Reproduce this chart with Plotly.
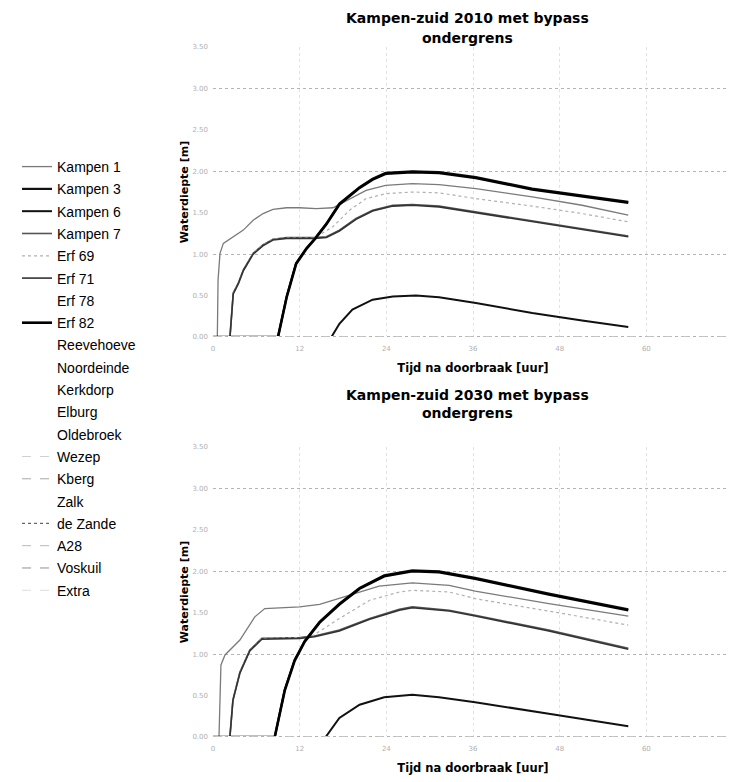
import plotly.graph_objects as go

# ---------------- data ----------------
names = ["Kampen 1", "Kampen 3", "Kampen 6", "Kampen 7", "Erf 69", "Erf 71", "Erf 78", "Erf 82",
         "Reevehoeve", "Noordeinde", "Kerkdorp", "Elburg", "Oldebroek", "Wezep", "Kberg", "Zalk",
         "de Zande", "A28", "Voskuil", "Extra"]

x_ticks = [0, 12, 24, 36, 48, 60, 72]

# 2010 (top chart): time [uur], depth [m]
t10_kampen1 = [0, 0.6, 0.7, 0.97, 1.43, 2.8, 4.2, 5.56, 6.94, 8.3, 10.2, 12.0, 14.3, 16.6, 18.9, 21.2, 23.9, 27.6, 31.3, 36.4, 44.2, 51.1, 57.5]
d10_kampen1 = [0, 0.0, 0.69, 1.01, 1.13, 1.21, 1.29, 1.41, 1.49, 1.54, 1.56, 1.56, 1.55, 1.56, 1.67, 1.77, 1.83, 1.85, 1.84, 1.79, 1.69, 1.59, 1.47]

t10_kampen3 = [0, 9.0, 10.2, 11.5, 12.9, 14.1, 15.7, 17.5, 20.3, 22.1, 23.9, 27.6, 31.3, 36.4, 44.2, 51.1, 57.5]
d10_kampen3 = [0, 0.0, 0.49, 0.89, 1.07, 1.19, 1.37, 1.61, 1.81, 1.91, 1.98, 2.00, 1.99, 1.93, 1.79, 1.71, 1.63]

t10_kampen6 = [0, 16.4, 17.5, 19.3, 22.1, 24.9, 28.1, 31.3, 36.4, 44.2, 51.1, 57.5]
d10_kampen6 = [0, 0.0, 0.16, 0.33, 0.45, 0.49, 0.50, 0.48, 0.41, 0.29, 0.20, 0.12]

t10_kampen7 = [0, 2.35, 2.8, 3.5, 4.2, 5.56, 6.9, 8.3, 10.2, 12.0, 14.1, 15.7, 17.5, 19.8, 22.1, 24.9, 27.6, 31.3, 36.4, 44.2, 51.1, 57.5]
d10_kampen7 = [0, 0.0, 0.53, 0.65, 0.81, 1.01, 1.11, 1.18, 1.20, 1.20, 1.20, 1.21, 1.29, 1.43, 1.53, 1.59, 1.60, 1.58, 1.51, 1.40, 1.31, 1.22]

t10_erf69 = [0, 2.35, 2.8, 3.5, 4.2, 5.56, 6.9, 8.3, 10.2, 12.0, 14.1, 16.6, 18.9, 21.2, 23.9, 27.6, 31.3, 36.4, 44.2, 51.1, 57.5]
d10_erf69 = [0, 0.0, 0.53, 0.65, 0.81, 1.01, 1.11, 1.18, 1.20, 1.20, 1.20, 1.33, 1.53, 1.67, 1.73, 1.75, 1.74, 1.67, 1.58, 1.49, 1.39]

t10_erf71 = [0, 2.35, 2.8, 3.5, 4.2, 5.56, 6.9, 8.3, 10.2, 12.0, 14.1, 15.7, 17.5, 19.8, 22.1, 24.9, 27.6, 31.3, 36.4, 44.2, 51.1, 57.5]
d10_erf71 = [0, 0.0, 0.52, 0.64, 0.80, 1.00, 1.10, 1.17, 1.19, 1.19, 1.19, 1.20, 1.28, 1.42, 1.52, 1.58, 1.59, 1.57, 1.50, 1.39, 1.30, 1.21]

t10_erf82 = [0, 9.0, 10.2, 11.5, 12.9, 14.1, 15.7, 17.5, 20.3, 22.1, 23.9, 27.6, 31.3, 36.4, 44.2, 51.1, 57.5]
d10_erf82 = [0, 0.0, 0.48, 0.88, 1.06, 1.18, 1.36, 1.60, 1.80, 1.90, 1.97, 1.99, 1.98, 1.92, 1.78, 1.70, 1.62]

# 2030 (bottom chart)
t30_kampen1 = [0, 0.83, 1.1, 1.66, 3.72, 5.79, 7.17, 12.0, 14.76, 18.9, 23.0, 27.6, 32.7, 36.3, 46.5, 57.5]
d30_kampen1 = [0, 0.0, 0.87, 0.99, 1.17, 1.45, 1.55, 1.57, 1.60, 1.71, 1.82, 1.86, 1.83, 1.76, 1.61, 1.46]

t30_kampen3 = [0, 8.55, 9.93, 11.3, 12.7, 14.76, 17.5, 20.3, 23.7, 27.6, 31.3, 36.3, 46.5, 57.5]
d30_kampen3 = [0, 0.0, 0.57, 0.93, 1.16, 1.39, 1.61, 1.80, 1.95, 2.01, 2.00, 1.92, 1.73, 1.54]

t30_kampen6 = [0, 15.6, 17.5, 20.3, 23.7, 27.6, 31.3, 36.3, 46.5, 57.5]
d30_kampen6 = [0, 0.0, 0.23, 0.39, 0.48, 0.51, 0.48, 0.42, 0.28, 0.13]

t30_kampen7 = [0, 2.34, 2.76, 3.72, 5.1, 6.76, 12.0, 14.07, 17.5, 21.7, 25.8, 27.6, 32.7, 36.3, 46.5, 57.5]
d30_kampen7 = [0, 0.0, 0.45, 0.78, 1.05, 1.19, 1.20, 1.22, 1.29, 1.43, 1.54, 1.57, 1.53, 1.47, 1.29, 1.07]

t30_erf69 = [0, 2.34, 2.76, 3.72, 5.1, 6.76, 12.0, 13.4, 17.5, 21.7, 25.8, 27.6, 32.7, 36.3, 46.5, 57.5]
d30_erf69 = [0, 0.0, 0.45, 0.78, 1.05, 1.19, 1.20, 1.20, 1.43, 1.65, 1.75, 1.77, 1.75, 1.67, 1.52, 1.35]

t30_erf71 = [0, 2.34, 2.76, 3.72, 5.1, 6.76, 12.0, 14.07, 17.5, 21.7, 25.8, 27.6, 32.7, 36.3, 46.5, 57.5]
d30_erf71 = [0, 0.0, 0.44, 0.77, 1.04, 1.18, 1.19, 1.21, 1.28, 1.42, 1.53, 1.56, 1.52, 1.46, 1.28, 1.06]

t30_erf82 = [0, 8.55, 9.93, 11.3, 12.7, 14.76, 17.5, 20.3, 23.7, 27.6, 31.3, 36.3, 46.5, 57.5]
d30_erf82 = [0, 0.0, 0.56, 0.92, 1.15, 1.38, 1.60, 1.79, 1.94, 2.00, 1.99, 1.91, 1.72, 1.53]

# series that stay dry (0 m) during the whole period
t_zero = [0, 72]
d_zero = [0, 0]

series_2010 = {
    "Kampen 1": (t10_kampen1, d10_kampen1), "Kampen 3": (t10_kampen3, d10_kampen3),
    "Kampen 6": (t10_kampen6, d10_kampen6), "Kampen 7": (t10_kampen7, d10_kampen7),
    "Erf 69": (t10_erf69, d10_erf69), "Erf 71": (t10_erf71, d10_erf71),
    "Erf 82": (t10_erf82, d10_erf82),
}
series_2030 = {
    "Kampen 1": (t30_kampen1, d30_kampen1), "Kampen 3": (t30_kampen3, d30_kampen3),
    "Kampen 6": (t30_kampen6, d30_kampen6), "Kampen 7": (t30_kampen7, d30_kampen7),
    "Erf 69": (t30_erf69, d30_erf69), "Erf 71": (t30_erf71, d30_erf71),
    "Erf 82": (t30_erf82, d30_erf82),
}

# ---------------- styles ----------------
styles = {
    "Kampen 1": dict(color="#7a7a7a", width=1.3, dash="solid"),
    "Kampen 3": dict(color="#111111", width=2.2, dash="solid"),
    "Kampen 6": dict(color="#111111", width=2.0, dash="solid"),
    "Kampen 7": dict(color="#555555", width=1.6, dash="solid"),
    "Erf 69": dict(color="#b0b0b0", width=1.2, dash="dot"),
    "Erf 71": dict(color="#333333", width=1.6, dash="solid"),
    "Erf 78": dict(color="#ffffff", width=1, dash="solid"),
    "Erf 82": dict(color="#000000", width=2.6, dash="solid"),
    "Reevehoeve": dict(color="#ffffff", width=1, dash="solid"),
    "Noordeinde": dict(color="#ffffff", width=1, dash="solid"),
    "Kerkdorp": dict(color="#ffffff", width=1, dash="solid"),
    "Elburg": dict(color="#ffffff", width=1, dash="solid"),
    "Oldebroek": dict(color="#ffffff", width=1, dash="solid"),
    "Wezep": dict(color="#d0d0d0", width=1, dash="dash"),
    "Kberg": dict(color="#a8a8a8", width=1, dash="dash"),
    "Zalk": dict(color="#ffffff", width=1, dash="solid"),
    "de Zande": dict(color="#666666", width=1.2, dash="dot"),
    "A28": dict(color="#b8b8b8", width=1, dash="dash"),
    "Voskuil": dict(color="#909090", width=1, dash="dash"),
    "Extra": dict(color="#dddddd", width=1, dash="dash"),
}

fig = go.Figure()

# empty helper traces so the overlaid grid axes get drawn
fig.add_trace(go.Scatter(x=[None], y=[None], xaxis="x", yaxis="y3", showlegend=False, hoverinfo="skip"))
fig.add_trace(go.Scatter(x=[None], y=[None], xaxis="x2", yaxis="y4", showlegend=False, hoverinfo="skip"))

for panel, series, xa, ya in [(0, series_2010, "x", "y"), (1, series_2030, "x2", "y2")]:
    for nm in names:
        t, d = series.get(nm, (t_zero, d_zero))
        fig.add_trace(go.Scatter(
            x=t, y=d, mode="lines", name=nm, legendgroup=nm,
            showlegend=(panel == 0), line=styles[nm], xaxis=xa, yaxis=ya,
            hoverinfo="skip"))

tick_font = dict(family="DejaVu Sans", size=7, color="#b0b0b0")
xtitle_font = dict(family="DejaVu Sans", size=11.5, color="#000000", weight="bold")
ytitle_font = dict(family="DejaVu Sans", size=11, color="#000000", weight="bold")

top_dom = [0.5797, 1.0]
bot_dom = [0.0, 0.4203]

def xax(anchor):
    return dict(domain=[0, 1], anchor=anchor, range=[0, 72], tickvals=x_ticks,
                showgrid=True, gridcolor="#e2e2e2", griddash="dot", gridwidth=1,
                zeroline=False, showline=False, ticks="", tickfont=tick_font,
                ticklabelstandoff=6,
                title=dict(text="Tijd na doorbraak [uur]", font=xtitle_font, standoff=11))

def yax(anchor, dom):
    return dict(domain=dom, anchor=anchor, range=[0, 3.5], dtick=0.5, tickformat=".2f",
                showgrid=False, zeroline=False, showline=False, ticks="", tickfont=tick_font,
                ticklabelstandoff=4,
                title=dict(text="Waterdiepte [m]", font=ytitle_font, standoff=1))

def ygrid(anchor, over, dom):
    return dict(domain=dom, anchor=anchor, overlaying=over, range=[0, 3.5], dtick=1,
                showgrid=True, gridcolor="#b4b4b4", griddash="dot", gridwidth=1,
                showticklabels=False, zeroline=False, showline=False, ticks="")

fig.update_layout(
    width=727, height=774,
    margin=dict(l=205, r=2, t=39, b=45),
    paper_bgcolor="white", plot_bgcolor="white",
    xaxis=xax("y"), yaxis=yax("x", top_dom),
    xaxis2=xax("y2"), yaxis2=yax("x2", bot_dom),
    yaxis3=ygrid("x", "y", top_dom),
    yaxis4=ygrid("x2", "y2", bot_dom),
    legend=dict(x=-0.3769, xanchor="left", y=0.8493, yanchor="top",
                font=dict(family="Liberation Sans, Arial", size=14, color="#000000"),
                tracegroupgap=1.1, bgcolor="rgba(0,0,0,0)", borderwidth=0),
    showlegend=True,
)

ttl_font = dict(family="DejaVu Sans", size=14, color="#000000", weight="bold")
for line, ypos in [("Kampen-zuid 2010 met bypass", 1.042), ("ondergrens", 1.013),
                   ("Kampen-zuid 2030 met bypass", 0.4957), ("ondergrens", 0.4696)]:
    fig.add_annotation(text=line, xref="paper", yref="paper", x=0.49, y=ypos,
                       showarrow=False, font=ttl_font, xanchor="center", yanchor="middle")

fig.write_html("out.html")
